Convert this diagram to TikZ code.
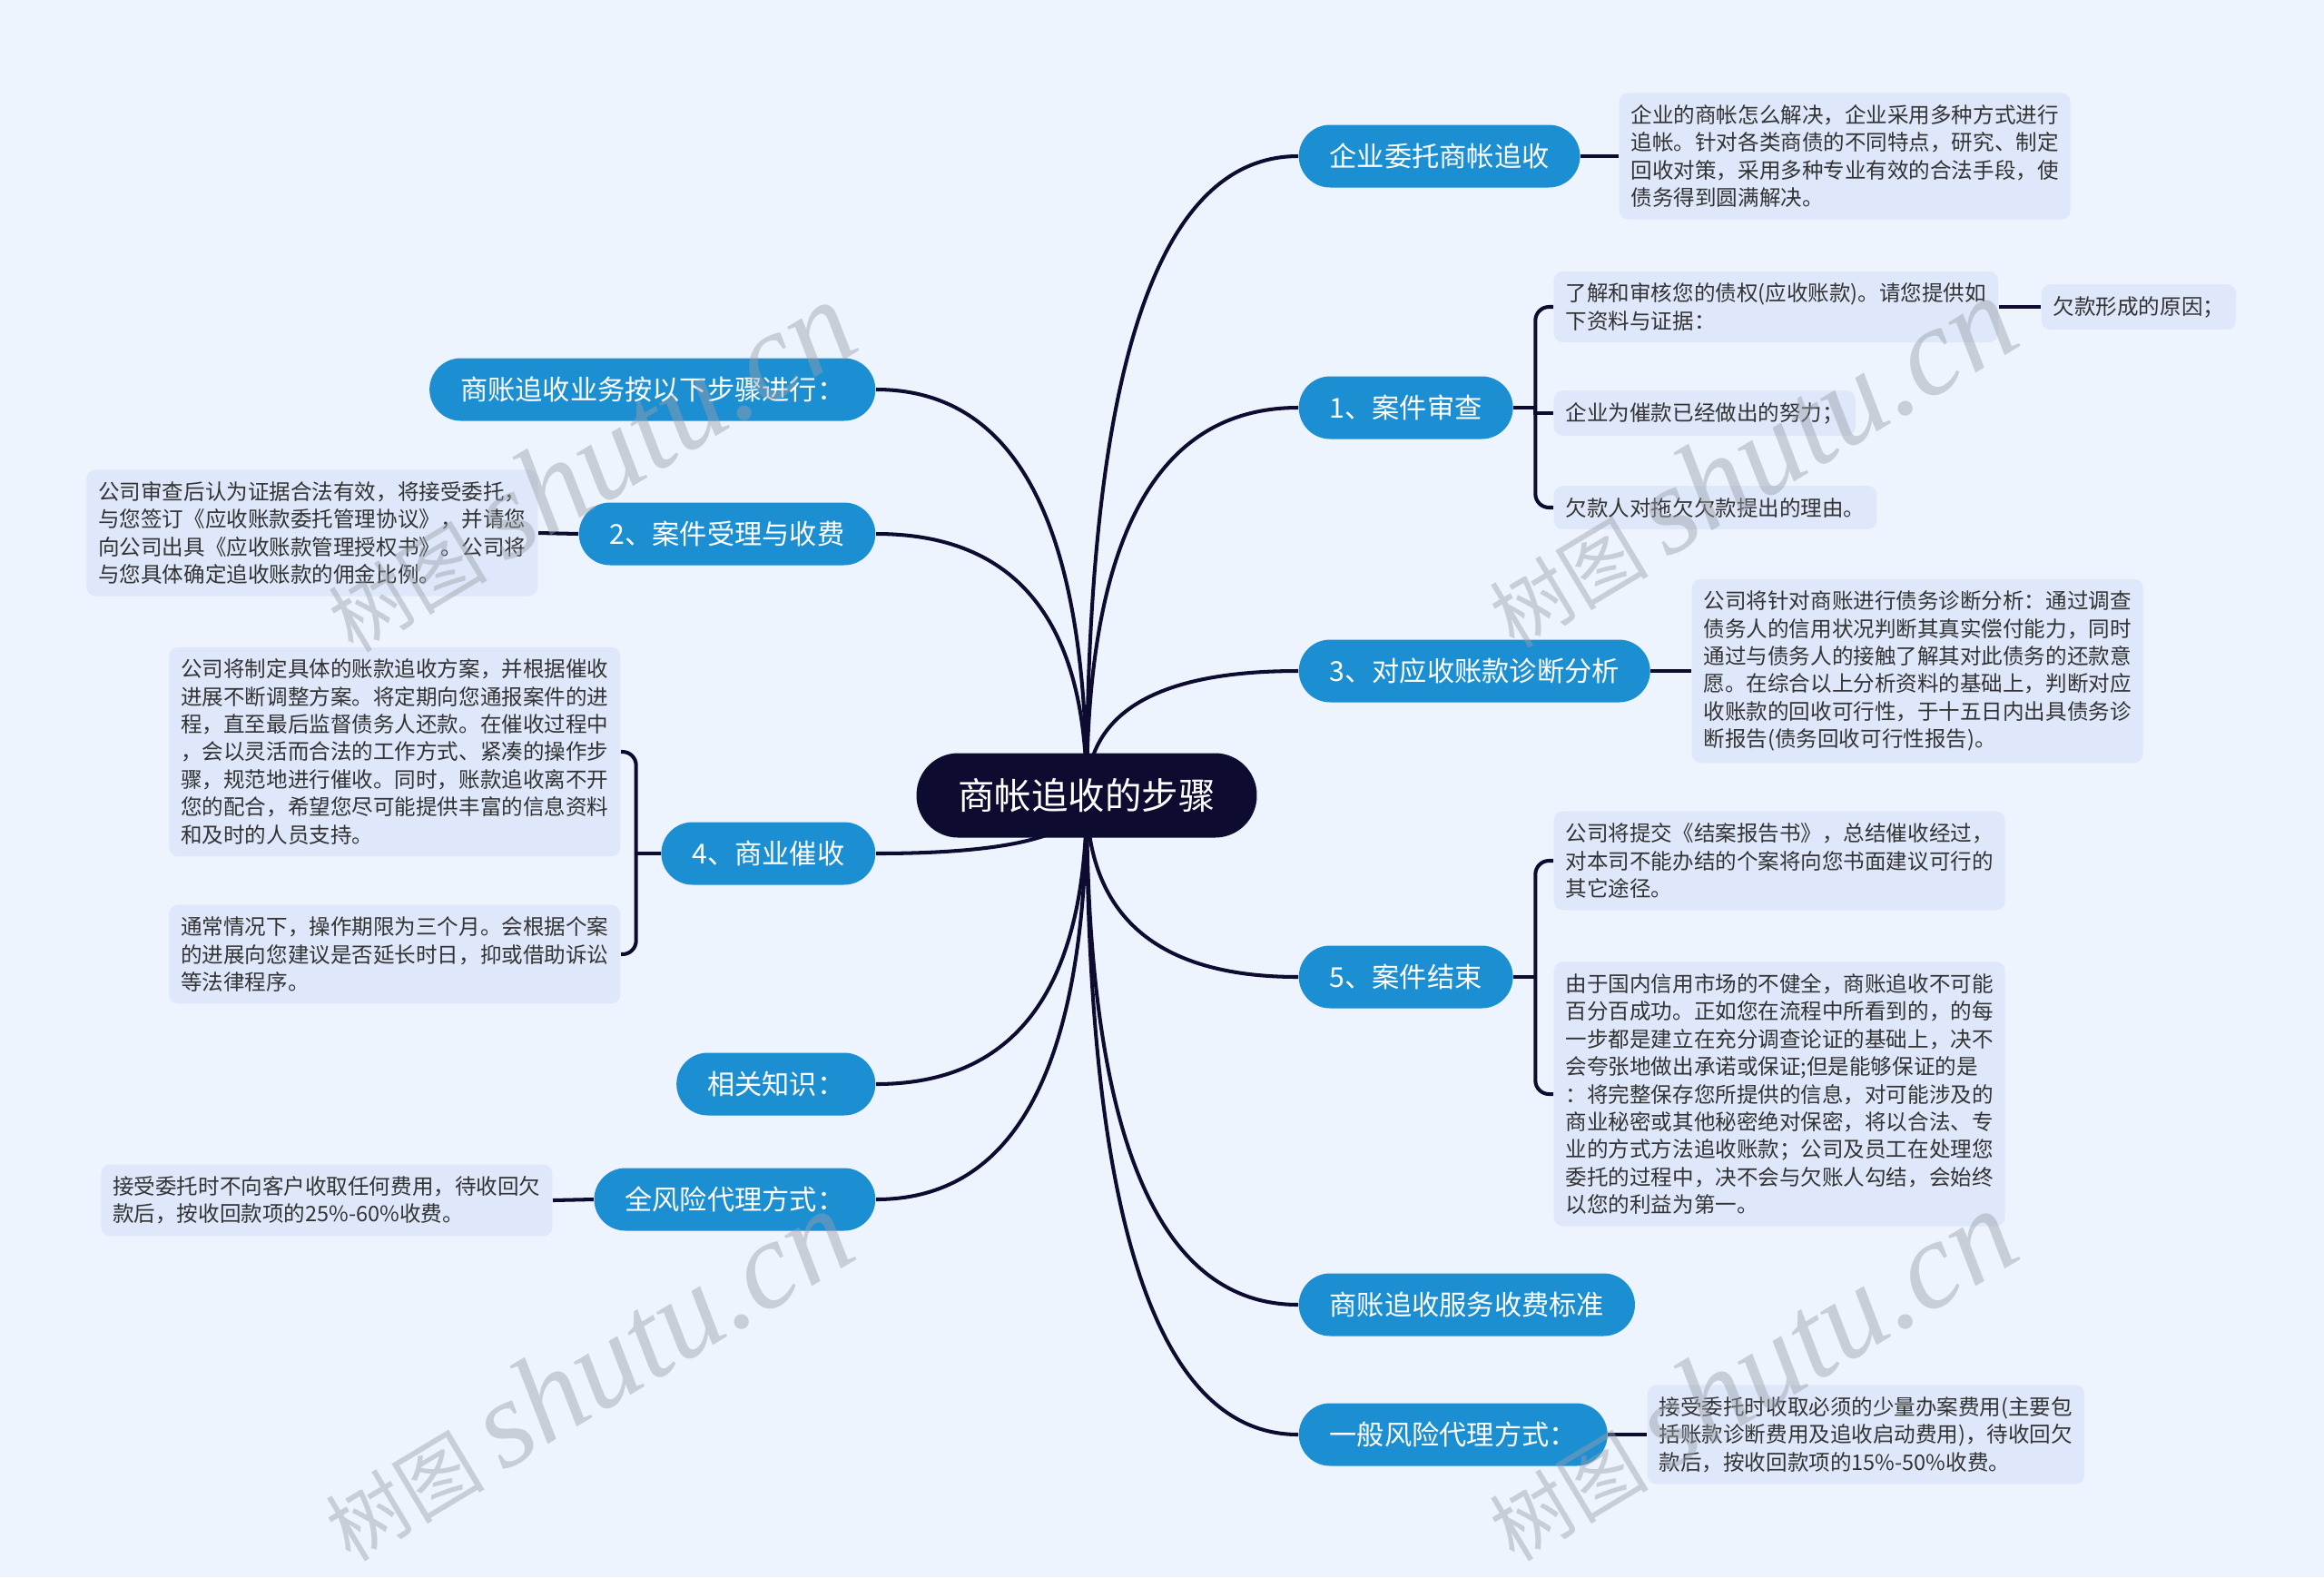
\documentclass[tikz,border=0pt]{standalone}
\usepackage{fontspec}
\setmainfont{Noto Sans CJK SC}
\newfontfamily\wmfont{Liberation Serif}
\usetikzlibrary{calc,backgrounds}

\definecolor{bgcol}{HTML}{EEF4FD}
\definecolor{rootcol}{HTML}{0E0B30}
\definecolor{topiccol}{HTML}{1C8FD3}
\definecolor{notecol}{HTML}{DEE8FA}
\definecolor{linecol}{HTML}{0E0B30}
\definecolor{textcol}{HTML}{333333}
\definecolor{wmcol}{HTML}{9AA0AA}

\tikzset{
  rootnode/.style={fill=rootcol, text=white, rounded corners=0.46cm, minimum height=0.93cm,
    inner xsep=0.46cm, font=\fontsize{11.5}{13}\selectfont},
  topic/.style={fill=topiccol, text=white, rounded corners=0.345cm, minimum height=0.69cm,
    inner xsep=0.34cm, font=\fontsize{8.6}{10}\selectfont},
  note/.style={fill=notecol, rounded corners=0.1cm, align=left, inner xsep=0.13cm,
    inner ysep=0.13cm, text=textcol, font=\fontsize{6.7}{8.65}\selectfont},
  branch/.style={draw=linecol, line width=1.15pt},
  wm/.style={text=wmcol, opacity=0.45, font=\fontsize{25}{29}\selectfont},
}

% rama curva desde la raiz
\newcommand{\rbranch}[1]{\draw[branch] (root.center) .. controls ($(root.center)!0.667!(root.center |- #1.west)$) and ($(#1.west)!0.667!(root.center |- #1.west)$) .. (#1.west);}
\newcommand{\lbranch}[1]{\draw[branch] (root.center) .. controls ($(root.center)!0.667!(root.center |- #1.east)$) and ($(#1.east)!0.667!(root.center |- #1.east)$) .. (#1.east);}

\begin{document}
\begin{tikzpicture}
    \useasboundingbox (0,0) rectangle (25.6,-17.37);

    % Raiz
    \node[rootnode] (root) at (11.97,-8.76) {商帐追收的步骤};

    % Temas a la derecha
    \node[topic, anchor=west] (t0) at (14.30,-1.72) {企业委托商帐追收};
    \node[topic, anchor=west] (t1) at (14.30,-4.49) {1、案件审查};
    \node[topic, anchor=west] (t3) at (14.30,-7.39) {3、对应收账款诊断分析};
    \node[topic, anchor=west] (t5) at (14.30,-10.76) {5、案件结束};
    \node[topic, anchor=west] (tfee) at (14.30,-14.37) {商账追收服务收费标准};
    \node[topic, anchor=west] (tgen) at (14.30,-15.80) {一般风险代理方式：};

    % Temas a la izquierda
    \node[topic, anchor=east] (tsteps) at (9.65,-4.29) {商账追收业务按以下步骤进行：};
    \node[topic, anchor=east] (t2) at (9.65,-5.88) {2、案件受理与收费};
    \node[topic, anchor=east] (t4) at (9.65,-9.40) {4、商业催收};
    \node[topic, anchor=east] (tknow) at (9.65,-11.94) {相关知识：};
    \node[topic, anchor=east] (tfull) at (9.65,-13.21) {全风险代理方式：};

    % Notas derecha
    \node[note, anchor=west] (n0) at (17.83,-1.72) {企业的商帐怎么解决，企业采用多种方式进行\\追帐。针对各类商债的不同特点，研究、制定\\回收对策，采用多种专业有效的合法手段，使\\债务得到圆满解决。};
    \node[note, anchor=west] (n1a) at (17.11,-3.38) {了解和审核您的债权(应收账款)。请您提供如\\下资料与证据：};
    \node[note, anchor=west] (n1aa) at (22.48,-3.38) {欠款形成的原因；};
    \node[note, anchor=west] (n1b) at (17.11,-4.55) {企业为催款已经做出的努力；};
    \node[note, anchor=west] (n1c) at (17.11,-5.59) {欠款人对拖欠欠款提出的理由。};
    \node[note, anchor=west] (n3) at (18.63,-7.39) {公司将针对商账进行债务诊断分析：通过调查\\债务人的信用状况判断其真实偿付能力，同时\\通过与债务人的接触了解其对此债务的还款意\\愿。在综合以上分析资料的基础上，判断对应\\收账款的回收可行性，于十五日内出具债务诊\\断报告(债务回收可行性报告)。};
    \node[note, anchor=west] (n5a) at (17.11,-9.48) {公司将提交《结案报告书》，总结催收经过，\\对本司不能办结的个案将向您书面建议可行的\\其它途径。};
    \node[note, anchor=west] (n5b) at (17.11,-12.05) {由于国内信用市场的不健全，商账追收不可能\\百分百成功。正如您在流程中所看到的，的每\\一步都是建立在充分调查论证的基础上，决不\\会夸张地做出承诺或保证;但是能够保证的是\\：将完整保存您所提供的信息，对可能涉及的\\商业秘密或其他秘密绝对保密，将以合法、专\\业的方式方法追收账款；公司及员工在处理您\\委托的过程中，决不会与欠账人勾结，会始终\\以您的利益为第一。};
    \node[note, anchor=west] (ngen) at (18.14,-15.80) {接受委托时收取必须的少量办案费用(主要包\\括账款诊断费用及追收启动费用)，待收回欠\\款后，按收回款项的15\%-50\%收费。};

    % Notas izquierda
    \node[note, anchor=east] (n2) at (5.93,-5.87) {公司审查后认为证据合法有效，将接受委托，\\与您签订《应收账款委托管理协议》，并请您\\向公司出具《应收账款管理授权书》。公司将\\与您具体确定追收账款的佣金比例。};
    \node[note, anchor=east] (n4a) at (6.84,-8.28) {公司将制定具体的账款追收方案，并根据催收\\进展不断调整方案。将定期向您通报案件的进\\程，直至最后监督债务人还款。在催收过程中\\，会以灵活而合法的工作方式、紧凑的操作步\\骤，规范地进行催收。同时，账款追收离不开\\您的配合，希望您尽可能提供丰富的信息资料\\和及时的人员支持。};
    \node[note, anchor=east] (n4b) at (6.84,-10.51) {通常情况下，操作期限为三个月。会根据个案\\的进展向您建议是否延长时日，抑或借助诉讼\\等法律程序。};
    \node[note, anchor=east] (nfull) at (6.09,-13.22) {接受委托时不向客户收取任何费用，待收回欠\\款后，按收回款项的25\%-60\%收费。};

    \begin{scope}[on background layer]
        % Fondo
        \fill[bgcol] (0,0) rectangle (25.6,-17.37);

        % Ramas principales
        \rbranch{t0} \rbranch{t1} \rbranch{t3} \rbranch{t5} \rbranch{tfee} \rbranch{tgen}
        \lbranch{tsteps} \lbranch{t2} \lbranch{t4} \lbranch{tknow} \lbranch{tfull}

        % Conexiones a las notas
        \draw[branch] (t0.east) -- (n0.west);
        \draw[branch] (t3.east) -- (n3.west);
        \draw[branch] (tgen.east) -- (ngen.west);
        \draw[branch] (n1a.east) -- (n1aa.west);
        \draw[branch] (t2.west) -- (n2.east);
        \draw[branch] (tfull.west) -- (nfull.east);

        % Llaves
        \draw[branch] (t1.east) -- ++(0.24,0) coordinate (b1);
        \draw[branch, rounded corners=0.15cm] (b1) |- (n1a.west);
        \draw[branch, rounded corners=0.15cm] (b1) |- (n1c.west);
        \draw[branch] (b1) |- (n1b.west);
        \draw[branch] (t5.east) -- ++(0.24,0) coordinate (b5);
        \draw[branch, rounded corners=0.15cm] (b5) |- (n5a.west);
        \draw[branch, rounded corners=0.15cm] (b5) |- (n5b.west);
        \draw[branch] (t4.west) -- ++(-0.27,0) coordinate (b4);
        \draw[branch, rounded corners=0.15cm] (b4) |- (n4a.east);
        \draw[branch, rounded corners=0.15cm] (b4) |- (n4b.east);
    \end{scope}

    % Marcas de agua
    \node[wm, rotate=31] (wm1) at (6.48,-5.14) {树图 {\wmfont\itshape\fontsize{39}{44}\selectfont shutu.cn}};
    \node[wm, rotate=31] (wm2) at (19.27,-5.09) {树图 {\wmfont\itshape\fontsize{39}{44}\selectfont shutu.cn}};
    \node[wm, rotate=31] (wm3) at (6.45,-15.15) {树图 {\wmfont\itshape\fontsize{39}{44}\selectfont shutu.cn}};
    \node[wm, rotate=31] (wm4) at (19.27,-15.15) {树图 {\wmfont\itshape\fontsize{39}{44}\selectfont shutu.cn}};
\end{tikzpicture}
\end{document}
